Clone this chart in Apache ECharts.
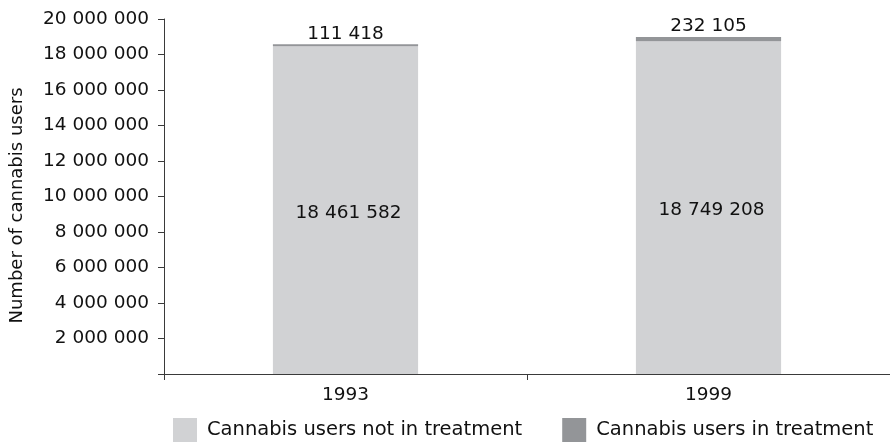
<!DOCTYPE html>
<html>
<head>
<meta charset="utf-8">
<script src="https://cdn.jsdelivr.net/npm/echarts@6/dist/echarts.min.js"></script>
<style>
  html, body { margin: 0; padding: 0; background: #fff; }
  #chart { width: 890px; height: 443px; }
</style>
</head>
<body>
<div id="chart"></div>
<script>
// Cannabis users, split by treatment status
const years = ['1993', '1999'];
const notInTreatment = [18461582, 18749208];
const inTreatment = [111418, 232105];
const seriesNames = ['Cannabis users not in treatment', 'Cannabis users in treatment'];
const yTicks = [0, 2000000, 4000000, 6000000, 8000000, 10000000, 12000000, 14000000, 16000000, 18000000, 20000000];

const FONT = 'DejaVu Sans';
const FS = 18.5;
const GAP = '\u00a0';

// Thousands grouped with spaces: 18 461 582
function grouped(v) {
  return String(v).replace(/\B(?=(\d{3})+(?!\d))/g, GAP);
}

const chart = echarts.init(document.getElementById('chart'));
chart.setOption({
  animation: false,
  textStyle: { fontFamily: FONT },
  grid: { left: 163, right: 0, top: 19, bottom: 69, containLabel: false },
  legend: {
    data: seriesNames,
    left: 168,
    top: 413,
    itemWidth: 24,
    itemHeight: 24,
    itemGap: 40,
    icon: 'rect',
    textStyle: { fontFamily: FONT, fontSize: 19.5, color: '#111', padding: [0, 0, 0, 5] }
  },
  xAxis: {
    type: 'category',
    data: years,
    axisLine: { lineStyle: { color: '#3a3a3a', width: 1 } },
    axisTick: { show: true, length: 6, lineStyle: { color: '#3a3a3a' } },
    axisLabel: { fontFamily: FONT, fontSize: FS, color: '#111', margin: 12 }
  },
  yAxis: {
    type: 'value',
    min: yTicks[0],
    max: yTicks[yTicks.length - 1],
    interval: yTicks[1] - yTicks[0],
    name: 'Number of cannabis users',
    nameLocation: 'middle',
    nameGap: 138,
    nameTextStyle: { fontFamily: FONT, fontSize: 18, color: '#111', padding: [0, 18, 0, 0] },
    axisLine: { show: true, lineStyle: { color: '#3a3a3a', width: 1 } },
    axisTick: { show: true, length: 6, lineStyle: { color: '#3a3a3a' } },
    splitLine: { show: false },
    axisLabel: {
      fontFamily: FONT, fontSize: FS, color: '#111', margin: 15,
      formatter: v => (v === 0 ? '' : grouped(v))
    }
  },
  series: [
    {
      name: seriesNames[0],
      type: 'bar',
      stack: 'users',
      barWidth: '40%',
      data: notInTreatment,
      itemStyle: { color: '#d1d2d4' },
      label: {
        show: true, position: 'inside', offset: [3, 3],
        fontFamily: FONT, fontSize: FS, color: '#111',
        formatter: p => grouped(p.value)
      }
    },
    {
      name: seriesNames[1],
      type: 'bar',
      stack: 'users',
      barWidth: '40%',
      data: inTreatment,
      itemStyle: { color: '#939598' },
      label: {
        show: true, position: 'top', distance: 1,
        fontFamily: FONT, fontSize: FS, color: '#111',
        formatter: p => grouped(p.value)
      }
    }
  ]
});
</script>
</body>
</html>
